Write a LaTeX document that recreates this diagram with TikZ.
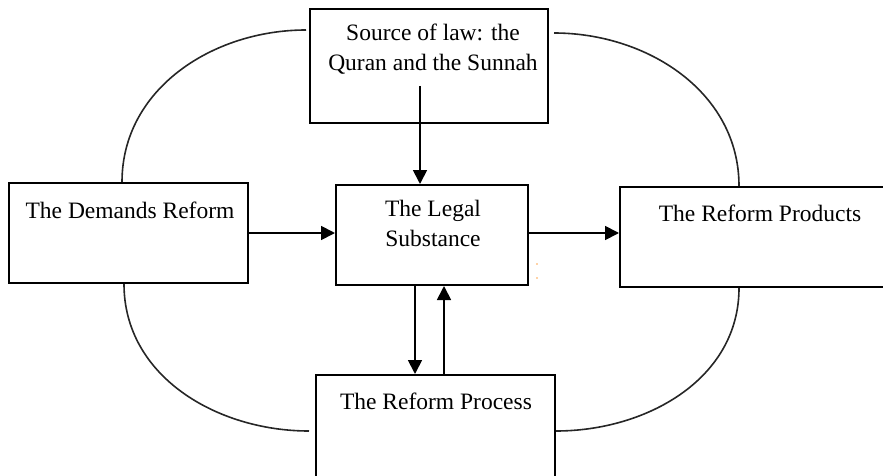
\documentclass[tikz,border=0pt]{standalone}
\usepackage{fontspec}
\setmainfont{Liberation Serif}
\usetikzlibrary{arrows.meta}

\begin{document}
\begin{tikzpicture}[x=1pt, y=1pt,
        box/.style={draw, line width=2pt, inner sep=0pt},
        txt/.style={font=\fontsize{23.5}{30}\selectfont, align=center, inner sep=0pt, anchor=base},
        arr/.style={line width=1.8pt, -{Triangle[length=14pt, width=14pt]}},
        loop/.style={line width=1.6pt, draw=black!85}]
                \useasboundingbox (0,0) rectangle (883,475);

                % the boxes
                \node[box, minimum width=238pt, minimum height=114pt] (source) at (429,409) {};
                \node[box, minimum width=239pt, minimum height=100pt] (demand) at (128.5,242) {};
                \node[box, minimum width=192pt, minimum height=100pt] (legal) at (432,240) {};
                \node[box, minimum width=275pt, minimum height=100pt] (products) at (757.5,238) {};
                \node[box, minimum width=239pt, minimum height=110pt] (process) at (435.5,45) {};

                % their texts (base of a two line text is its last line)
                \node[txt] (sourcetxt) at ([xshift=4pt, yshift=-63pt]source.north) {Source of law: the\\Quran and the Sunnah};
                \node[txt] (demandtxt) at ([xshift=1.5pt, yshift=-36pt]demand.north) {The Demands Reform};
                \node[txt] (legaltxt) at ([xshift=1pt, yshift=-62pt]legal.north) {The Legal\\Substance};
                \node[txt] (productstxt) at ([xshift=2.5pt, yshift=-35pt]products.north) {The Reform Products};
                \node[txt] (processtxt) at ([xshift=0.5pt, yshift=-35pt]process.north) {The Reform Process};

                % arrows
                \coordinate (srcfoot) at ([xshift=-9pt, yshift=38pt]source.south);
                \coordinate (downfoot) at ([xshift=-17pt]legal.south);
                \coordinate (upfoot) at ([xshift=12pt]legal.south);
                \draw[arr] (srcfoot) -- (srcfoot |- legal.north);
                \draw[arr] (demand.east) -- (demand.east -| legal.west);
                \draw[arr] (demand.east -| legal.east) -- (demand.east -| products.west);
                \draw[arr] (downfoot) -- (downfoot |- process.north);
                \draw[arr] (upfoot |- process.north) -- (upfoot);

                % the ring round the middle
                \draw[loop] ([xshift=-3pt, yshift=-22pt]source.north west) to[out=180, in=90] ([xshift=114pt]demand.north west);
                \draw[loop] ([xshift=5pt, yshift=-25pt]source.north east) to[out=0, in=90] ([xshift=120pt]products.north west);
                \draw[loop] ([xshift=116pt]demand.south west) to[out=-90, in=180] ([xshift=-6pt, yshift=-57pt]process.north west);
                \draw[loop] ([xshift=120pt]products.south west) to[out=-90, in=0] ([yshift=-57pt]process.north east);

                % two stray dots
                \fill[orange!70] ([xshift=8pt, yshift=22pt]legal.south east) circle (0.9pt);
                \fill[orange!70] ([xshift=8pt, yshift=8pt]legal.south east) circle (0.9pt);
            \end{tikzpicture}
\end{document}
